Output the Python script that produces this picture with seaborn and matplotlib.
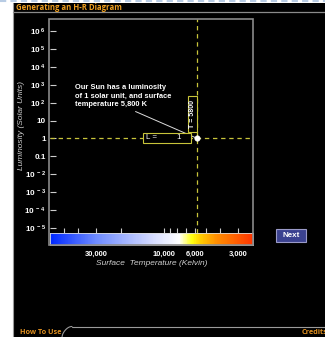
import numpy as np
import matplotlib
matplotlib.use("Agg")
import matplotlib.pyplot as plt
from matplotlib.colors import LinearSegmentedColormap
from matplotlib.patches import Rectangle
import seaborn as sns

# data
lum_ticks = [1e6, 1e5, 1e4, 1e3, 1e2, 10, 1, 0.1, 1e-2, 1e-3, 1e-4, 1e-5]
lum_labels = [r"$\mathbf{10^{\ 6}}$", r"$\mathbf{10^{\ 5}}$", r"$\mathbf{10^{\ 4}}$",
              r"$\mathbf{10^{\ 3}}$", r"$\mathbf{10^{\ 2}}$", "10", "1", "0.1",
              r"$\mathbf{10^{\ -2}}$", r"$\mathbf{10^{\ -3}}$", r"$\mathbf{10^{\ -4}}$",
              r"$\mathbf{10^{\ -5}}$"]
temp_ticks = [50000, 40000, 30000, 20000, 10000, 9000, 8000, 7000, 6000, 5000, 4000, 3000]
temp_labeled = [30000, 10000, 6000, 3000]
temp_labels = ["30,000", "10,000", "6,000", "3,000"]
sun_temp = [5800]
sun_lum = [1]
cbar_temps = [63000, 30000, 12000, 7800, 6300, 5600, 4300, 2350]
cbar_colors = ["#0028ff", "#6e8bff", "#d5dbff", "#ffffff", "#ffff10", "#ffd000", "#ff9000", "#ff3400"]

W, H = 325, 337
def fx(x):
    return x / W
def fy(y):
    return 1 - y / H

sns.set_theme(style="dark", rc={"axes.facecolor": "black", "figure.facecolor": "white"})
plt.rcParams["font.family"] = ["Liberation Sans", "DejaVu Sans"]
plt.rcParams["mathtext.fontset"] = "custom"
plt.rcParams["mathtext.bf"] = "Liberation Sans:bold"

fig = plt.figure(figsize=(W / 100, H / 100), dpi=100)

# black panel + top strip
fig.patches.append(Rectangle((fx(13), 0), 1 - fx(13), fy(3), transform=fig.transFigure,
                             facecolor="black", edgecolor="none", zorder=-5))
fig.add_artist(plt.Line2D([fx(13), fx(13)], [0, fy(3)], color="#9a9a9a", lw=0.8))
fig.add_artist(plt.Line2D([0, 1], [fy(1), fy(1)], color="#b8cce4", lw=1.5, ls=(0, (3, 2))))
fig.add_artist(plt.Line2D([fx(13), 1], [fy(12), fy(12)], color="#8a8a8a", lw=0.9))
fig.text(fx(16), fy(7.5), "Generating an H-R Diagram", color="#f0a020", fontsize=5.6,
         fontweight="bold", family=["Open Sans", "DejaVu Sans"], va="center")

# main axes
ax = fig.add_axes([fx(50), fy(233), fx(253) - fx(50), fy(19) - fy(233)])
ax.set_facecolor("black")
ax.set_xscale("log")
ax.set_yscale("log")
ax.set_xlim(63200, 2350)
ax.set_ylim(10 ** -5.28, 10 ** 6.67)
for s in ax.spines.values():
    s.set_visible(False)
ax.set_yticks(lum_ticks)
ax.set_yticklabels(lum_labels)
ax.yaxis.set_minor_locator(matplotlib.ticker.NullLocator())
ax.tick_params(axis="y", direction="in", length=4, width=0.8, color="#cccccc",
               labelcolor="white", labelsize=5.8, pad=3, left=True)
for t in ax.get_yticklabels():
    t.set_fontweight("bold")
ax.set_xticks(temp_ticks)
ax.xaxis.set_minor_locator(matplotlib.ticker.NullLocator())
ax.tick_params(axis="x", direction="in", length=3.5, width=0.8, color="#cccccc",
               labelbottom=False, bottom=True)
ax.grid(False)
ax.set_ylabel("Luminosity (Solar Units)", color="#d0d0d0", fontsize=6,
              fontstyle="italic")
ax.yaxis.set_label_coords(-0.125, 0.5)

# guide lines through the Sun
ax.axhline(sun_lum[0], color="#c8c43a", lw=0.9, ls=(0, (3.5, 3)))
ax.axvline(sun_temp[0], color="#c8c43a", lw=0.9, ls=(0, (3.5, 3)))
sns.scatterplot(x=sun_temp, y=sun_lum, ax=ax, color="white", s=16, edgecolor="white",
                zorder=5, legend=False)

ax.annotate("Our Sun has a luminosity\nof 1 solar unit, and surface\ntemperature 5,800 K",
            xy=(sun_temp[0], sun_lum[0]), xytext=(fx(75), fy(96)), textcoords="figure fraction",
            color="white", fontsize=5.4, fontweight="bold", va="center", ha="left",
            linespacing=1.35,
            arrowprops=dict(arrowstyle="-", color="#dddddd", lw=0.7,
                            shrinkA=0, shrinkB=2, relpos=(0.55, 0.0)))

# readout boxes
fig.patches.append(Rectangle((fx(143), fy(143)), fx(191) - fx(143), fy(133) - fy(143),
                             transform=fig.transFigure, facecolor="black",
                             edgecolor="#c8c43a", lw=0.8, zorder=6))
fig.text(fx(146), fy(138), "L =", color="white", fontsize=5.8, va="center", zorder=7)
fig.text(fx(176), fy(138), "1", color="white", fontsize=5.8, va="center", zorder=7)
fig.patches.append(Rectangle((fx(188), fy(132)), fx(197) - fx(188), fy(96) - fy(132),
                             transform=fig.transFigure, facecolor="black",
                             edgecolor="#c8c43a", lw=0.8, zorder=6))
fig.text(fx(192.5), fy(114), "T = 5800", color="white", fontsize=5.0, rotation=90,
         va="center", ha="center", fontweight="bold", zorder=7)

# temperature colour bar
cax = fig.add_axes([fx(50), fy(245), fx(253) - fx(50), fy(233) - fy(245)])
logt = np.log10(cbar_temps)
pos = (logt[0] - logt) / (logt[0] - logt[-1])
cmap = LinearSegmentedColormap.from_list("hr", list(zip(pos, cbar_colors)))
tt = np.logspace(np.log10(63200), np.log10(2350), 400)
cax.pcolormesh(tt, [0, 1], np.log10(tt)[None, :-1], cmap=cmap.reversed(),
               vmin=np.log10(2350), vmax=np.log10(63200), shading="flat")
cax.set_xscale("log")
cax.set_xlim(63200, 2350)
cax.set_ylim(0, 1)
cax.set_yticks([])
cax.set_xticks(temp_labeled)
cax.set_xticklabels(temp_labels)
cax.xaxis.set_minor_locator(matplotlib.ticker.NullLocator())
cax.tick_params(axis="x", length=0, labelcolor="white", labelsize=5.4, pad=4)
for t in cax.get_xticklabels():
    t.set_fontweight("bold")
for s in cax.spines.values():
    s.set_color("#dddddd")
    s.set_linewidth(0.6)
cax.set_xlabel("Surface  Temperature (Kelvin)", color="#d0d0d0", fontsize=6,
               fontstyle="italic", labelpad=2)

# outer frame of the plot
fig.patches.append(Rectangle((fx(49), fy(245)), fx(253) - fx(49), fy(19) - fy(245),
                             transform=fig.transFigure, facecolor="none",
                             edgecolor="#8a8a8a", lw=1.2, zorder=8))

# Next button
fig.patches.append(Rectangle((fx(276), fy(242)), fx(306) - fx(276), fy(229) - fy(242),
                             transform=fig.transFigure, facecolor="#3b4290",
                             edgecolor="#9a9ac8", lw=0.8))
fig.text(fx(291), fy(235.5), "Next", color="white", fontsize=5.8, fontweight="bold",
         ha="center", va="center")

# bottom nav
fig.add_artist(plt.Line2D([fx(72), 1], [fy(326.5), fy(326.5)], color="#9a9a9a", lw=0.8))
cx = np.linspace(0, 1, 20)
fig.add_artist(plt.Line2D(fx(62 + 10 * cx), fy(337 - 10.5 * np.sin(cx * np.pi / 2) ** 0.6),
                          color="#9a9a9a", lw=0.8))
fig.text(fx(20), fy(332), "How To Use", color="#e09020", fontsize=5.2, fontweight="bold",
         va="center", family=["Open Sans", "DejaVu Sans"])
fig.text(fx(302), fy(332), "Credits", color="#e09020", fontsize=5.2, fontweight="bold",
         va="center", family=["Open Sans", "DejaVu Sans"])

fig.savefig("out.png", dpi=100, facecolor="white")
